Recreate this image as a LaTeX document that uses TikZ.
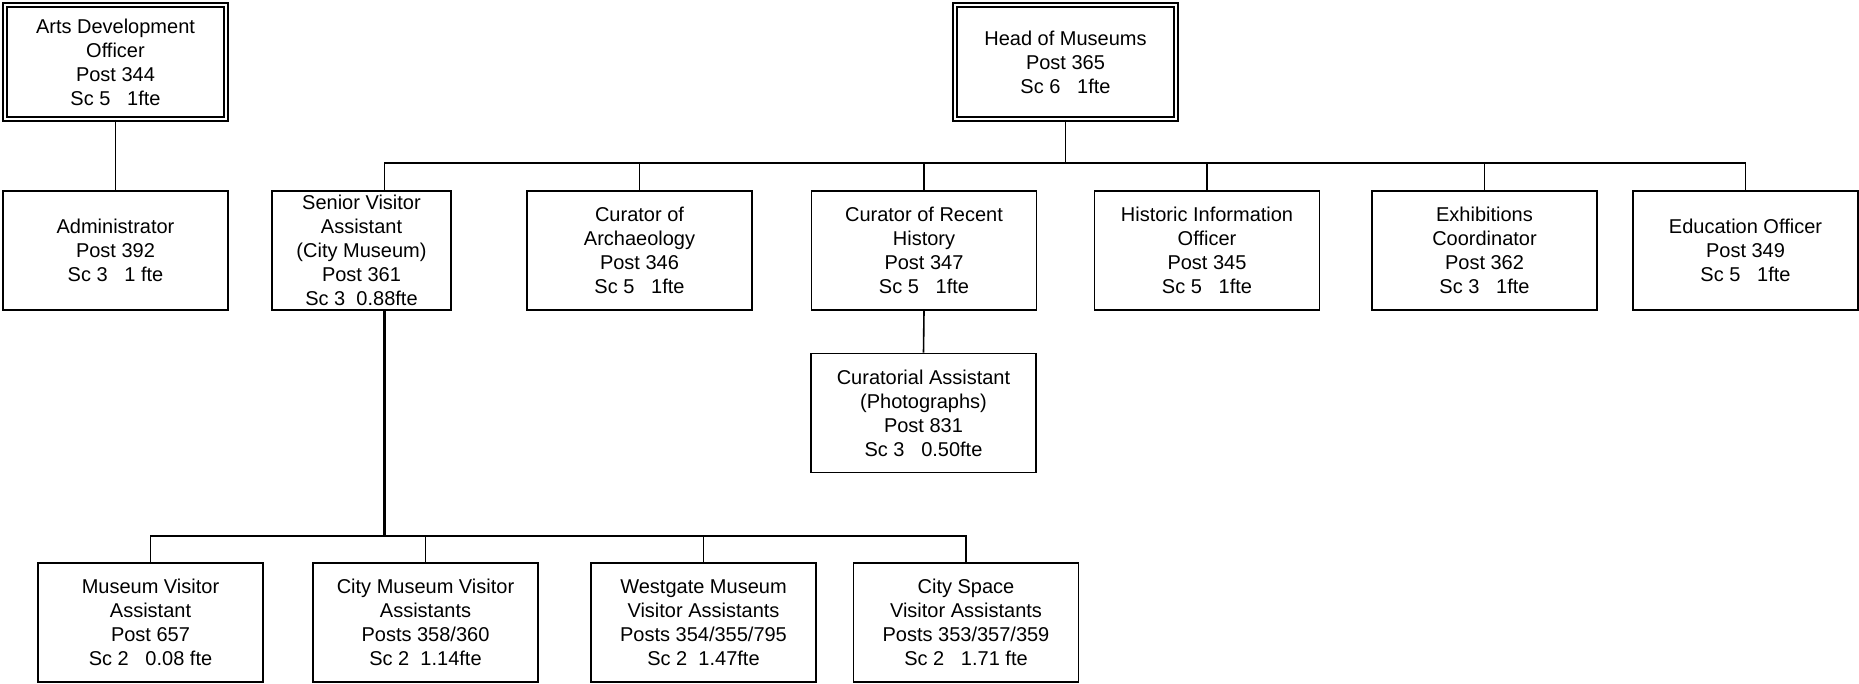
\documentclass[tikz,border=0pt]{standalone}
\usepackage{fontspec}
\setmainfont{Liberation Sans}
\usepackage{tikz}
\usetikzlibrary{calc}

\begin{document}
\begin{tikzpicture}[
  x=0.5pt, y=-0.5pt,
  post/.style={draw, line width=0.8pt, align=center, inner sep=0.5pt,
    minimum width=112.5pt, minimum height=59.5pt,
    font=\fontsize{10}{12}\selectfont},
  chief/.style={post, double, line width=1pt, double distance=1pt,
    minimum width=110.5pt, minimum height=57pt},
  link/.style={line width=0.8pt},
  trunk/.style={line width=1.5pt},
]
  \useasboundingbox (0,0) rectangle (1859,684);

  \node[chief] (arts) at (115.5, 62)
    {Arts Development\\Officer\\Post 344\\Sc 5~~~1fte};
  \node[chief] (head) at (1065.5, 62)
    {Head of Museums\\Post 365\\Sc 6~~~1fte};

  \node[post] (admin) at (115.5, 250.5)
    {Administrator\\Post 392\\Sc 3~~~1 fte};
  \node[post, minimum width=89.7pt] (senior) at (361.5, 250.5)
    {Senior Visitor\\Assistant\\(City Museum)\\Post 361\\Sc 3~~0.88fte};
  \node[post] (archaeo) at (639.5, 250.5)
    {Curator of\\Archaeology\\Post 346\\Sc 5~~~1fte};
  \node[post] (recent) at (924, 250.5)
    {Curator of Recent\\History\\Post 347\\Sc 5~~~1fte};
  \node[post] (historic) at (1207, 250.5)
    {Historic Information\\Officer\\Post 345\\Sc 5~~~1fte};
  \node[post] (exhib) at (1484.5, 250.5)
    {Exhibitions\\Coordinator\\Post 362\\Sc 3~~~1fte};
  \node[post] (educ) at (1745.5, 250.5)
    {Education Officer\\Post 349\\Sc 5~~~1fte};

  \node[post] (curas) at (923.5, 413)
    {Curatorial Assistant\\(Photographs)\\Post 831\\Sc 3~~~0.50fte};

  \node[post] (mva) at (150.5, 622.5)
    {Museum Visitor\\Assistant\\Post 657\\Sc 2~~~0.08 fte};
  \node[post] (cmva) at (425.5, 622.5)
    {City Museum Visitor\\Assistants\\Posts 358/360\\Sc 2~~1.14fte};
  \node[post] (wmva) at (703.5, 622.5)
    {Westgate Museum\\Visitor Assistants\\Posts 354/355/795\\Sc 2~~1.47fte};
  \node[post] (csva) at (966, 622.5)
    {City Space\\Visitor Assistants\\Posts 353/357/359\\Sc 2~~~1.71 fte};

  % arts development line
  \draw[link] (arts.south) -- (admin.north);

  % head of museums and the staff under it
  \coordinate (topbus) at ($(head.south |- archaeo.north)+(0,-27)$);
  \coordinate (svhead) at ([xshift=11.5pt]senior.north);
  \draw[link] (head.south) -- (topbus);
  \draw[link] (topbus) -| (svhead);
  \foreach \n in {archaeo, recent, historic, exhib, educ}
    \draw[link] (topbus) -| (\n.north);
  \draw[link] (recent.south) -- (curas.north);

  % visitor assistants
  \coordinate (svfoot) at ([xshift=11.5pt]senior.south);
  \coordinate (lowbus) at ($(svfoot |- mva.north)+(0,-26)$);
  \draw[trunk] (svfoot) -- (lowbus);
  \foreach \n in {mva, cmva, wmva, csva}
    \draw[link] (lowbus) -| (\n.north);
\end{tikzpicture}
\end{document}
